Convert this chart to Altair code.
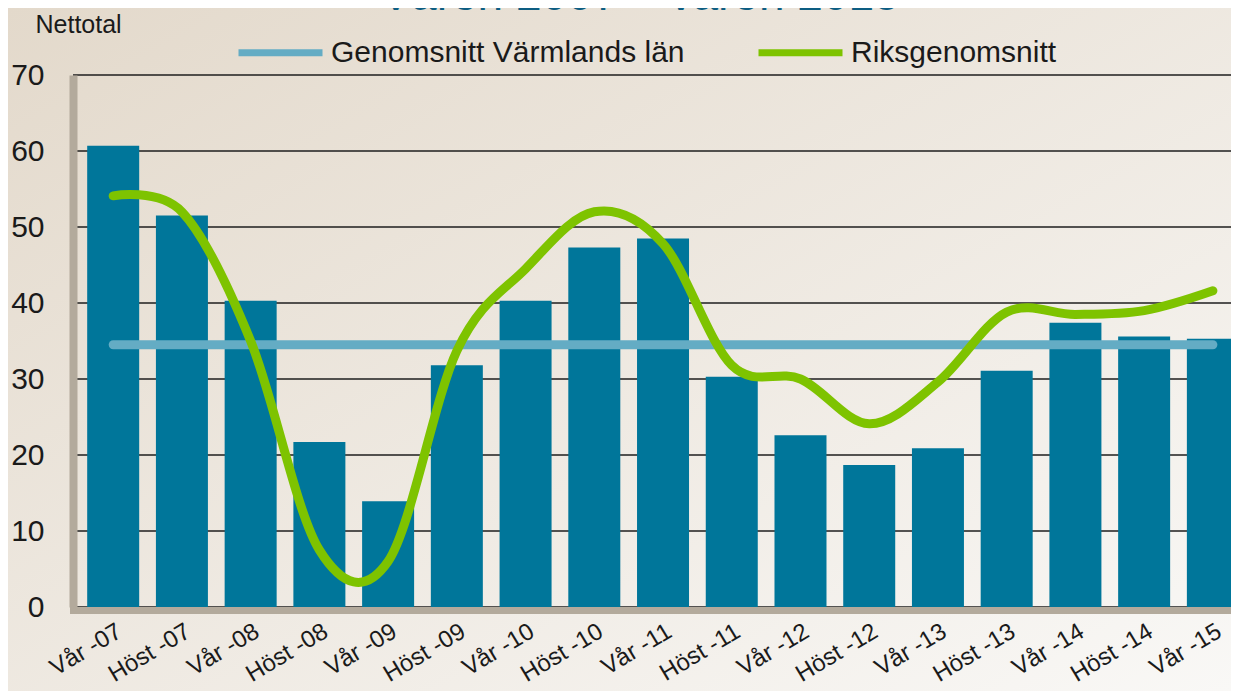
import json
import altair as alt
import pandas as pd

# ---- data ----
labels = ["Vår -07", "Höst -07", "Vår -08", "Höst -08", "Vår -09", "Höst -09",
          "Vår -10", "Höst -10", "Vår -11", "Höst -11", "Vår -12", "Höst -12",
          "Vår -13", "Höst -13", "Vår -14", "Höst -14", "Vår -15"]
lan_values = [60.7, 51.5, 40.3, 21.7, 13.9, 31.8, 40.3, 47.3, 48.5, 30.3,
              22.6, 18.7, 20.9, 31.1, 37.4, 35.6, 35.3]
riks_values = [54.1, 52.0, 35.0, 7.5, 6.0, 33.7, 44.5, 52.0, 47.8, 31.8,
               30.0, 24.1, 29.6, 38.8, 38.5, 39.0, 41.6]
lan_average = 34.5
y_ticks = [0, 10, 20, 30, 40, 50, 60, 70]

avg_name = "Genomsnitt Värmlands län"
riks_name = "Riksgenomsnitt"
title_text = "Våren 2007 – våren 2015"
y_title = "Nettotal"

# ---- layout / style ----
W, H = 1158, 532
PAD = {"left": 65, "top": 67, "right": 0, "bottom": 84}
FONT = "Liberation Sans"
BAR = "#00769a"
BLUE = "#64acc4"
GREEN = "#7ec300"
WALL = "#b3aa9c"
TXT = "#1a1a1a"

idx = list(range(len(labels)))
bars_df = pd.DataFrame({"idx": idx, "v": lan_values, "label": labels})
riks_df = pd.DataFrame({"idx": idx, "v": riks_values, "series": [riks_name] * len(idx)})
avg_df = pd.DataFrame({"idx": [idx[0]], "idx2": [idx[-1]], "v": [lan_average], "series": [avg_name]})
grid_df = pd.DataFrame({"v": y_ticks})
title_df = pd.DataFrame({"t": [title_text]})

label_expr = json.dumps(labels, ensure_ascii=False) + "[datum.value]"

x_scale = alt.Scale(domain=[-0.512, 16.191], nice=False, zero=False)
y_scale = alt.Scale(domain=[0, 70], nice=False, zero=True)

x_axis = alt.Axis(values=idx, labelExpr=label_expr, grid=False, ticks=False,
                  labelAngle=-31, labelAlign="right", labelBaseline="top",
                  labelPadding=9, labelFontSize=24, labelColor=TXT,
                  labelFont=FONT, domainColor=WALL, domainWidth=7,
                  domainCap="square", offset=3, title=None, zindex=1,
                  labelFlush=False, labelOverlap=False)
y_axis = alt.Axis(values=y_ticks, grid=False, ticks=False, labelPadding=29,
                  labelFontSize=30, labelColor=TXT, labelFont=FONT,
                  domainColor=WALL, domainWidth=8, title=y_title, titleAngle=0,
                  titleX=-38, titleY=-43, titleAlign="left",
                  titleBaseline="alphabetic", titleFontSize=25,
                  titleFontWeight="normal", titleColor=TXT, titleFont=FONT,
                  zindex=1, labelFlush=False)

X = alt.X("idx:Q", scale=x_scale, axis=x_axis)
Y = alt.Y("v:Q", scale=y_scale, axis=y_axis)

color = alt.Color(
    "series:N",
    scale=alt.Scale(domain=[avg_name, riks_name], range=[BLUE, GREEN]),
    legend=alt.Legend(orient="none", legendX=162, legendY=-68,
                      direction="horizontal", padding=0, columnPadding=59,
                      labelOffset=5, symbolType="stroke", symbolSize=7056,
                      symbolStrokeWidth=7, labelFontSize=30, labelFont=FONT,
                      labelColor=TXT, title=None, labelLimit=600),
)

background = alt.Chart(title_df).mark_rect(
    fill=alt.Gradient(gradient="linear", x1=0, y1=0, x2=1, y2=1,
                      stops=[alt.GradientStop(color="#e3d9cb", offset=0),
                             alt.GradientStop(color="#f9f8f6", offset=1)])
).encode(
    x=alt.value(-PAD["left"]), x2=alt.value(W + PAD["right"]),
    y=alt.value(-PAD["top"]), y2=alt.value(H + PAD["bottom"]),
)

grid = alt.Chart(grid_df).mark_rule(color="#1e1e1e", strokeWidth=1.5).encode(
    y=Y, x=alt.value(0), x2=alt.value(W)
)

bars = alt.Chart(bars_df).mark_bar(color=BAR, width=52).encode(x=X, y=Y)

avg_rule = alt.Chart(avg_df).mark_rule(strokeWidth=9, strokeCap="round").encode(
    x=X, x2="idx2:Q", y=Y, color=color
)

riks_line = alt.Chart(riks_df).mark_line(
    interpolate="cardinal", strokeWidth=9, strokeCap="round", strokeJoin="round"
).encode(x=X, y=Y, color=color)

title = alt.Chart(title_df).mark_text(
    fontSize=46, font=FONT, color="#0d5d82", align="center", baseline="alphabetic"
).encode(text="t:N", x=alt.value(567), y=alt.value(-65))

chart = alt.layer(background, grid, bars, avg_rule, riks_line, title).properties(
    width=W, height=H,
    autosize=alt.AutoSizeParams(type="none"),
    padding=PAD,
    background="#ebe5dc",
).configure_view(stroke=None).configure(font=FONT)

chart.save("out.html", embed_options={"renderer": "svg", "actions": False})
